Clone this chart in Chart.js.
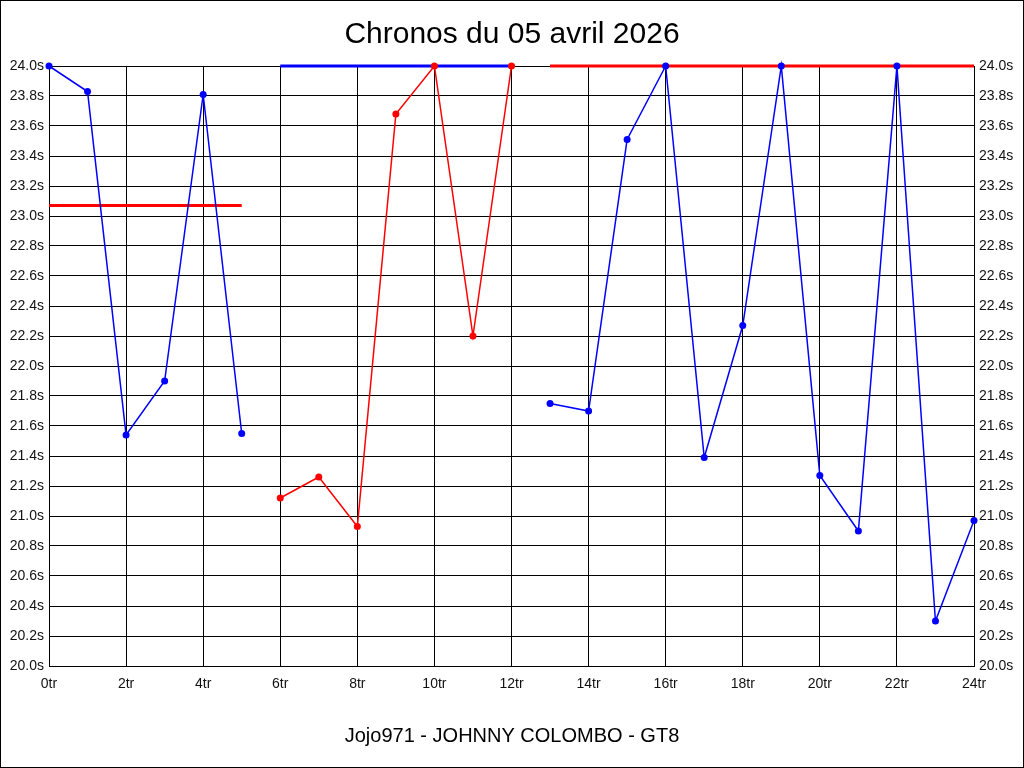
<!DOCTYPE html>
<html>
<head>
<meta charset="utf-8">
<script src="https://cdn.jsdelivr.net/npm/chart.js@4"></script>
<style>
html,body{margin:0;padding:0;background:#fff;}
canvas{display:block;}
</style>
</head>
<body>
<canvas id="c" width="1024" height="768"></canvas>
<script>
const titleText = "Chronos du 05 avril 2026";
const footerText = "Jojo971 - JOHNNY COLOMBO - GT8";

const stint1Laps = [0, 1, 2, 3, 4, 5];
const stint1Times = [24.0, 23.83, 21.54, 21.90, 23.81, 21.55];
const stint2Laps = [6, 7, 8, 9, 10, 11, 12];
const stint2Times = [21.12, 21.26, 20.93, 23.68, 24.0, 22.20, 24.0];
const stint3Laps = [13, 14, 15, 16, 17, 18, 19, 20, 21, 22, 23, 24];
const stint3Times = [21.75, 21.70, 23.51, 24.0, 21.39, 22.27, 24.0, 21.27, 20.90, 24.0, 20.30, 20.97];

const ref1Laps = [0, 5];   const ref1Time = 23.07;
const ref2Laps = [6, 12];  const ref2Time = 24.0;
const ref3Laps = [13, 24]; const ref3Time = 24.0;

const yMin = 20.0, yMax = 24.0, yStep = 0.2;
const xMin = 0, xMax = 24, xStep = 2;

const BLUE = '#0000ff', RED = '#ff0000';

function pts(xs, ys) { return xs.map((x, i) => ({x: x, y: ys[i]})); }
function flat(xs, v) { return xs.map(x => ({x: x, y: v})); }

function series(data, color) {
  return {data: data, borderColor: color, backgroundColor: color, borderWidth: 1.5,
    pointRadius: 3.5, pointHoverRadius: 3.5, pointBorderWidth: 0, pointBackgroundColor: color,
    tension: 0, clip: false, order: 0};
}
function refLine(data, color) {
  return {data: data, borderColor: color, backgroundColor: color, borderWidth: 3,
    pointRadius: 0, pointHoverRadius: 0, tension: 0, clip: false, order: 1};
}

const frame = {
  id: 'frame',
  afterDraw(chart) {
    const ctx = chart.ctx;
    ctx.save();
    ctx.strokeStyle = '#000';
    ctx.lineWidth = 1;
    ctx.strokeRect(0.5, 0.5, 1023, 767);
    ctx.fillStyle = '#000';
    ctx.font = '20px Arial, "Liberation Sans", sans-serif';
    ctx.textAlign = 'center';
    ctx.textBaseline = 'middle';
    ctx.fillText(footerText, 512, 736);
    ctx.restore();
  }
};

const tickFmt = v => Number(v).toFixed(1) + 's';

new Chart(document.getElementById('c'), {
  type: 'line',
  data: {
    datasets: [
      series(pts(stint1Laps, stint1Times), BLUE),
      series(pts(stint2Laps, stint2Times), RED),
      series(pts(stint3Laps, stint3Times), BLUE),
      refLine(flat(ref1Laps, ref1Time), RED),
      refLine(flat(ref2Laps, ref2Time), BLUE),
      refLine(flat(ref3Laps, ref3Time), RED)
    ]
  },
  options: {
    responsive: false,
    animation: false,
    events: [],
    layout: {padding: 0},
    plugins: {
      legend: {display: false},
      tooltip: {enabled: false},
      title: {
        display: true, text: titleText, color: '#000',
        font: {family: 'Arial, "Liberation Sans", sans-serif', size: 30, weight: 'normal', lineHeight: '34px'},
        padding: {top: 18, bottom: 14}
      }
    },
    scales: {
      x: {
        type: 'linear', min: xMin, max: xMax, position: 'bottom',
        ticks: {stepSize: xStep, callback: v => v + 'tr', color: '#111', padding: 10,
          font: {family: 'Arial, "Liberation Sans", sans-serif', size: 14}, maxRotation: 0},
        grid: {color: '#000', lineWidth: 1, drawTicks: false},
        border: {color: '#000', width: 1},
        afterFit(s) { s.height = 102; }
      },
      y: {
        type: 'linear', min: yMin, max: yMax, position: 'left',
        ticks: {stepSize: yStep, callback: tickFmt, color: '#111', padding: 5,
          font: {family: 'Arial, "Liberation Sans", sans-serif', size: 14}},
        grid: {color: '#000', lineWidth: 1, drawTicks: false},
        border: {color: '#000', width: 1},
        afterFit(s) { s.width = 49; }
      },
      y2: {
        type: 'linear', min: yMin, max: yMax, position: 'right',
        ticks: {stepSize: yStep, callback: tickFmt, color: '#111', padding: 5,
          font: {family: 'Arial, "Liberation Sans", sans-serif', size: 14}},
        grid: {display: false, drawTicks: false},
        border: {color: '#000', width: 1},
        afterFit(s) { s.width = 50; }
      }
    }
  },
  plugins: [frame]
});
</script>
</body>
</html>
